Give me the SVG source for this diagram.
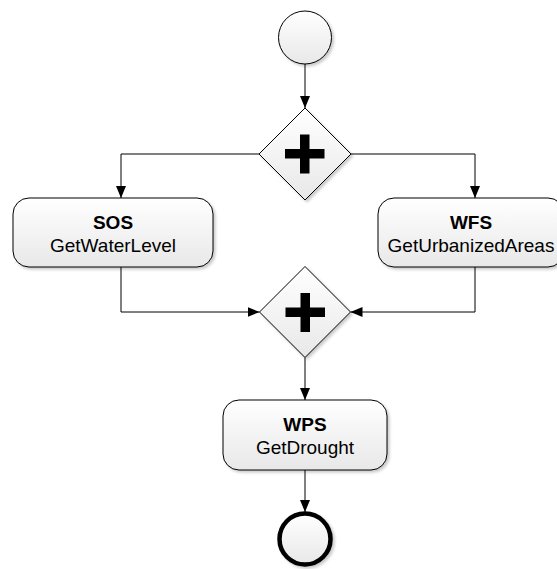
<svg xmlns="http://www.w3.org/2000/svg" width="557" height="569" viewBox="0 0 557 569">
<defs>
<linearGradient id="g" x1="0" y1="0" x2="0" y2="1">
<stop offset="0" stop-color="#ffffff"/>
<stop offset="1" stop-color="#e8e8e8"/>
</linearGradient>
<filter id="sh" x="-10%" y="-10%" width="130%" height="130%">
<feGaussianBlur in="SourceAlpha" stdDeviation="1.5"/>
<feOffset dx="2" dy="2" result="b"/>
<feComponentTransfer><feFuncA type="linear" slope="0.22"/></feComponentTransfer>
<feMerge><feMergeNode/><feMergeNode in="SourceGraphic"/></feMerge>
</filter>
<marker id="arr" viewBox="0 0 12 10" refX="12" refY="5" markerWidth="12" markerHeight="10" markerUnits="userSpaceOnUse" orient="auto">
<path d="M0,0 L12,5 L0,10 Z" fill="#000"/>
</marker>
</defs>
<style>
.n{fill:url(#g);stroke:#000;stroke-width:1;filter:url(#sh)}
.c{fill:none;stroke:#000;stroke-width:1;marker-end:url(#arr)}
.t1{font-family:"Liberation Sans",Arial,sans-serif;font-size:19px;font-weight:bold;text-anchor:middle;fill:#000}
.t2{font-family:"Liberation Sans",Arial,sans-serif;font-size:19px;text-anchor:middle;fill:#000}
.plus{fill:#000}
</style>
<g id="connectors">
<path class="c" d="M305,64 L305,108"/>
<path class="c" d="M259,154 L121,154 L121,198"/>
<path class="c" d="M351,154 L475,154 L475,198"/>
<path class="c" d="M121,267 L121,312 L259.5,312"/>
<path class="c" d="M475,267 L475,312 L350.5,312"/>
<path class="c" d="M305,357.5 L305,400"/>
<path class="c" d="M305,470 L305,512"/>
</g>
<g id="start">
<circle class="n" cx="305" cy="37.5" r="26.5"/>
</g>
<g id="fork">
<path class="n" d="M305,108 L351,154 L305,200 L259,154 Z"/>
<rect class="plus" x="285" y="149" width="39.5" height="9.5"/>
<rect class="plus" x="300" y="134.5" width="9.5" height="39"/>
</g>
<g id="sos">
<rect class="n" x="13" y="198" width="200" height="69" rx="16" ry="16"/>
<text class="t1" x="113" y="229">SOS</text>
<text class="t2" x="113" y="252">GetWaterLevel</text>
</g>
<g id="wfs">
<rect class="n" x="378" y="198" width="186" height="69" rx="16" ry="16"/>
<text class="t1" x="471" y="229">WFS</text>
<text class="t2" x="471" y="252">GetUrbanizedAreas</text>
</g>
<g id="join">
<path class="n" d="M305,266.5 L350.5,312 L305,357.5 L259.5,312 Z"/>
<rect class="plus" x="285.5" y="307.5" width="39.5" height="9.5"/>
<rect class="plus" x="300.5" y="293" width="9.5" height="39"/>
</g>
<g id="wps">
<rect class="n" x="223" y="400" width="164" height="70" rx="16" ry="16"/>
<text class="t1" x="305" y="431">WPS</text>
<text class="t2" x="305" y="454">GetDrought</text>
</g>
<g id="end">
<circle cx="305" cy="539" r="25.5" fill="url(#g)" stroke="#000" stroke-width="4.5" filter="url(#sh)"/>
</g>
</svg>
